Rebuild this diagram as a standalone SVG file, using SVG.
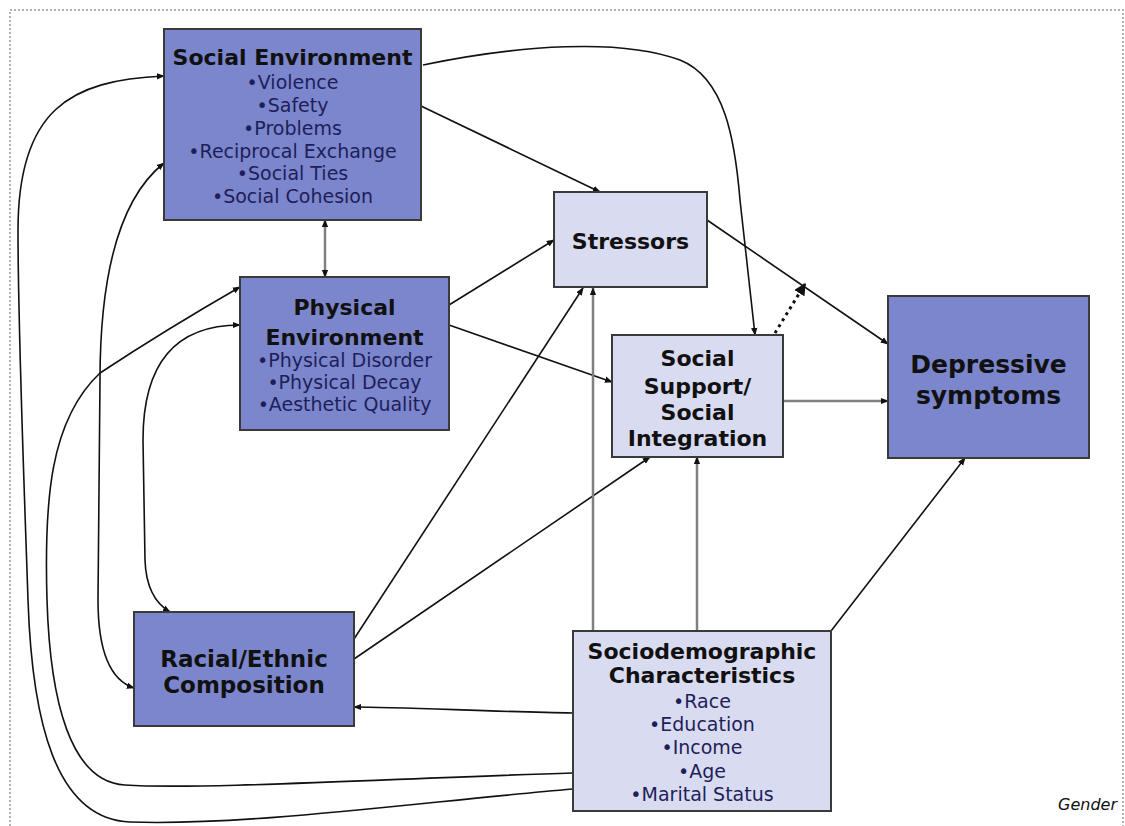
<svg xmlns="http://www.w3.org/2000/svg" width="1125" height="826" viewBox="0 0 1125 826">
<style>
.frame{fill:none;stroke:#999;stroke-width:1.5;stroke-dasharray:2 2}
.dark{fill:#7b86cc;stroke:#3a3a3a;stroke-width:2}
.light{fill:#d9dbf0;stroke:#3a3a3a;stroke-width:2}
.t{font-family:"DejaVu Sans",Verdana,sans-serif;font-weight:bold;font-size:22px;fill:#111;text-anchor:middle}
.b{font-family:"DejaVu Sans",Verdana,sans-serif;font-size:19px;fill:#1e1e5a;text-anchor:middle}
.big{font-size:25px}
.r{font-size:23px}
.c{fill:none;stroke:#111;stroke-width:1.6}
.g{fill:none;stroke:#808080;stroke-width:2.5}
.d{fill:none;stroke:#111;stroke-width:3;stroke-dasharray:3 4}
.gender{font-family:"DejaVu Sans",Verdana,sans-serif;font-style:italic;font-size:16px;fill:#111;text-anchor:end}
</style>
<defs>
<marker id="ah" viewBox="0 0 10 10" refX="9" refY="5" markerWidth="8" markerHeight="8" markerUnits="userSpaceOnUse" orient="auto-start-reverse"><path d="M0,1 L10,5 L0,9 z" fill="#111"/></marker>
<marker id="ahd" viewBox="0 0 10 10" refX="9" refY="5" markerWidth="12" markerHeight="12" markerUnits="userSpaceOnUse" orient="auto"><path d="M0,0 L10,5 L0,10 z" fill="#111"/></marker>
</defs>
<rect width="1125" height="826" fill="#fff"/>
<path class="frame" d="M10,826 L10,10 L1123,10 L1123,826"/>

<g id="connectors">
<path class="c" d="M573,789 C420,802 250,826 130,822 C55,819 32,720 28,600 C24,480 18,330 18,230 C18,110 70,80 164,76" marker-end="url(#ah)"/>
<path class="c" d="M573,773 C400,778 200,790 125,785 C70,782 50,700 47,600 C44,500 50,420 100,373 C150,340 200,310 240,287" marker-end="url(#ah)"/>
<path class="c" d="M164,163 C130,190 100,250 100,380 L98,600 C98,650 110,680 134,688" marker-start="url(#ah)" marker-end="url(#ah)"/>
<path class="c" d="M240,325 C170,325 143,370 143,440 L145,560 C146,590 158,605 170,612" marker-start="url(#ah)" marker-end="url(#ah)"/>
<path class="g" d="M325,220 L325,277" marker-start="url(#ah)" marker-end="url(#ah)"/>
<path class="c" d="M421,106 L600,192" marker-end="url(#ah)"/>
<path class="c" d="M423,65 C520,45 620,38 680,60 C725,78 735,140 740,200 L755,335" marker-end="url(#ah)"/>
<path class="c" d="M449,305 L554,240" marker-end="url(#ah)"/>
<path class="c" d="M449,325 L612,382" marker-end="url(#ah)"/>
<path class="c" d="M354,639 L583,288" marker-end="url(#ah)"/>
<path class="c" d="M354,659 L650,457" marker-end="url(#ah)"/>
<path class="g" d="M593,631 L593,288" marker-end="url(#ah)"/>
<path class="g" d="M697,631 L697,457" marker-end="url(#ah)"/>
<path class="c" d="M831,631 L965,458" marker-end="url(#ah)"/>
<path class="c" d="M707,220 L888,344" marker-end="url(#ah)"/>
<path class="g" d="M783,401 L888,401" marker-end="url(#ah)"/>
<path class="c" d="M573,713 C500,712 400,707 354,707" marker-end="url(#ah)"/>
<path class="d" d="M775,333 L805,284" marker-end="url(#ahd)"/>
</g>

<g id="social-environment">
<rect class="dark" x="164" y="29" width="257" height="191"/>
<text class="t" x="292.5" y="65">Social Environment</text>
<text class="b" x="292.5" y="89">•Violence</text>
<text class="b" x="292.5" y="112">•Safety</text>
<text class="b" x="292.5" y="135">•Problems</text>
<text class="b" x="292.5" y="158">•Reciprocal Exchange</text>
<text class="b" x="292.5" y="180">•Social Ties</text>
<text class="b" x="292.5" y="203">•Social Cohesion</text>
</g>

<g id="physical-environment">
<rect class="dark" x="240" y="277" width="209" height="153"/>
<text class="t" x="344.5" y="315">Physical</text>
<text class="t" x="344.5" y="345">Environment</text>
<text class="b" x="344.5" y="367">•Physical Disorder</text>
<text class="b" x="344.5" y="389">•Physical Decay</text>
<text class="b" x="344.5" y="411">•Aesthetic Quality</text>
</g>

<g id="stressors">
<rect class="light" x="554" y="192" width="153" height="95"/>
<text class="t" x="630.5" y="249">Stressors</text>
</g>

<g id="social-support">
<rect class="light" x="612" y="335" width="171" height="122"/>
<text class="t" x="697.5" y="366">Social</text>
<text class="t" x="697.5" y="394">Support/</text>
<text class="t" x="697.5" y="420">Social</text>
<text class="t" x="697.5" y="446">Integration</text>
</g>

<g id="depressive-symptoms">
<rect class="dark" x="888" y="296" width="201" height="162"/>
<text class="t big" x="988.5" y="373">Depressive</text>
<text class="t big" x="988.5" y="404">symptoms</text>
</g>

<g id="racial-ethnic">
<rect class="dark" x="134" y="612" width="220" height="114"/>
<text class="t r" x="244" y="667">Racial/Ethnic</text>
<text class="t r" x="244" y="693">Composition</text>
</g>

<g id="sociodemographic">
<rect class="light" x="573" y="631" width="258" height="180"/>
<text class="t" x="702" y="659">Sociodemographic</text>
<text class="t" x="702" y="683">Characteristics</text>
<text class="b" x="702" y="708">•Race</text>
<text class="b" x="702" y="731">•Education</text>
<text class="b" x="702" y="754">•Income</text>
<text class="b" x="702" y="778">•Age</text>
<text class="b" x="702" y="801">•Marital Status</text>
</g>

<text class="gender" x="1117" y="810">Gender</text>
</svg>
